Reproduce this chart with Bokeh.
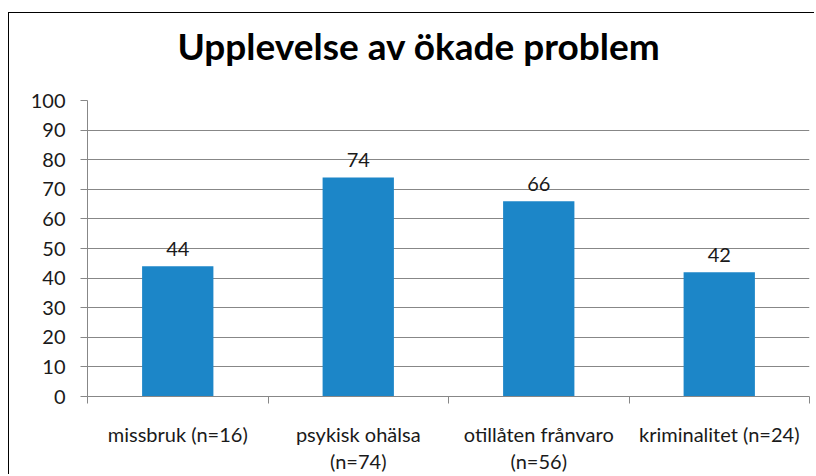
from bokeh.plotting import figure
from bokeh.models import (Range1d, FixedTicker, ColumnDataSource, Label)
from bokeh.core.properties import value
from bokeh.embed import file_html
from bokeh.resources import INLINE

title_text = "Upplevelse av ökade problem"
categories = ["missbruk (n=16)", "psykisk ohälsa\n(n=74)", "otillåten frånvaro\n(n=56)", "kriminalitet (n=24)"]
values = [44, 74, 66, 42]
y_ticks = [0, 10, 20, 30, 40, 50, 60, 70, 80, 90, 100]

FONT = "Lato"
GRID = "#878787"
BAR = "#1c86c8"
TXT = "#1a1a1a"

xs = [i + 0.5 for i in range(len(categories))]
src = ColumnDataSource(dict(x=xs, top=values, label=[str(v) for v in values]))

p = figure(width=806, height=462, output_backend="svg", toolbar_location=None,
           x_range=Range1d(0, len(categories)), y_range=Range1d(0, 100),
           min_border_left=78, min_border_right=6, min_border_top=87, min_border_bottom=78)
p.styles = {"margin-left": "8px", "margin-top": "12px",
            "border-left": "1.5px solid #000", "border-top": "1.5px solid #000"}
p.title.visible = False
p.outline_line_color = None
p.background_fill_color = "white"
p.border_fill_color = "white"

p.vbar(x="x", top="top", width=0.395, bottom=0, source=src, fill_color=BAR, line_color=None)
p.text(x="x", y="top", text="label", source=src, text_align="center", text_baseline="alphabetic",
       y_offset=-17, text_font=value(FONT), text_font_size="20px", text_color=TXT)

# y axis
p.yaxis.ticker = FixedTicker(ticks=y_ticks)
p.yaxis.axis_line_color = GRID
p.yaxis.major_tick_line_color = GRID
p.yaxis.major_tick_out = 7
p.yaxis.major_tick_in = 0
p.yaxis.minor_tick_line_color = None
p.yaxis.major_label_standoff = 15
p.yaxis.major_label_text_font = FONT
p.yaxis.major_label_text_font_size = "20px"
p.yaxis.major_label_text_color = TXT
p.ygrid.ticker = FixedTicker(ticks=y_ticks)
p.ygrid.grid_line_color = GRID
p.xgrid.grid_line_color = None

# x axis: labels at centers, ticks at boundaries
p.xaxis.ticker = FixedTicker(ticks=xs, minor_ticks=list(range(len(categories) + 1)))
p.xaxis.major_label_overrides = {x: c for x, c in zip(xs, categories)}
p.xaxis.axis_line_color = GRID
p.xaxis.major_tick_line_color = None
p.xaxis.major_tick_out = 0
p.xaxis.major_tick_in = 0
p.xaxis.minor_tick_line_color = GRID
p.xaxis.minor_tick_out = 7
p.xaxis.minor_tick_in = 0
p.xaxis.major_label_standoff = 18
p.xaxis.major_label_text_font = FONT
p.xaxis.major_label_text_font_size = "20px"
p.xaxis.major_label_text_color = TXT
p.xaxis.major_label_text_line_height = 1.125

# title (in the top panel so it is not clipped to the plot frame)
p.add_layout(Label(x=408.5, y=30.5, x_units="canvas", y_units="canvas", text=title_text,
                   text_align="center", text_baseline="alphabetic", text_font=FONT,
                   text_font_style="bold", text_font_size="37px", text_color="black"), "above")

open("out.html", "w").write(file_html(p, INLINE))
